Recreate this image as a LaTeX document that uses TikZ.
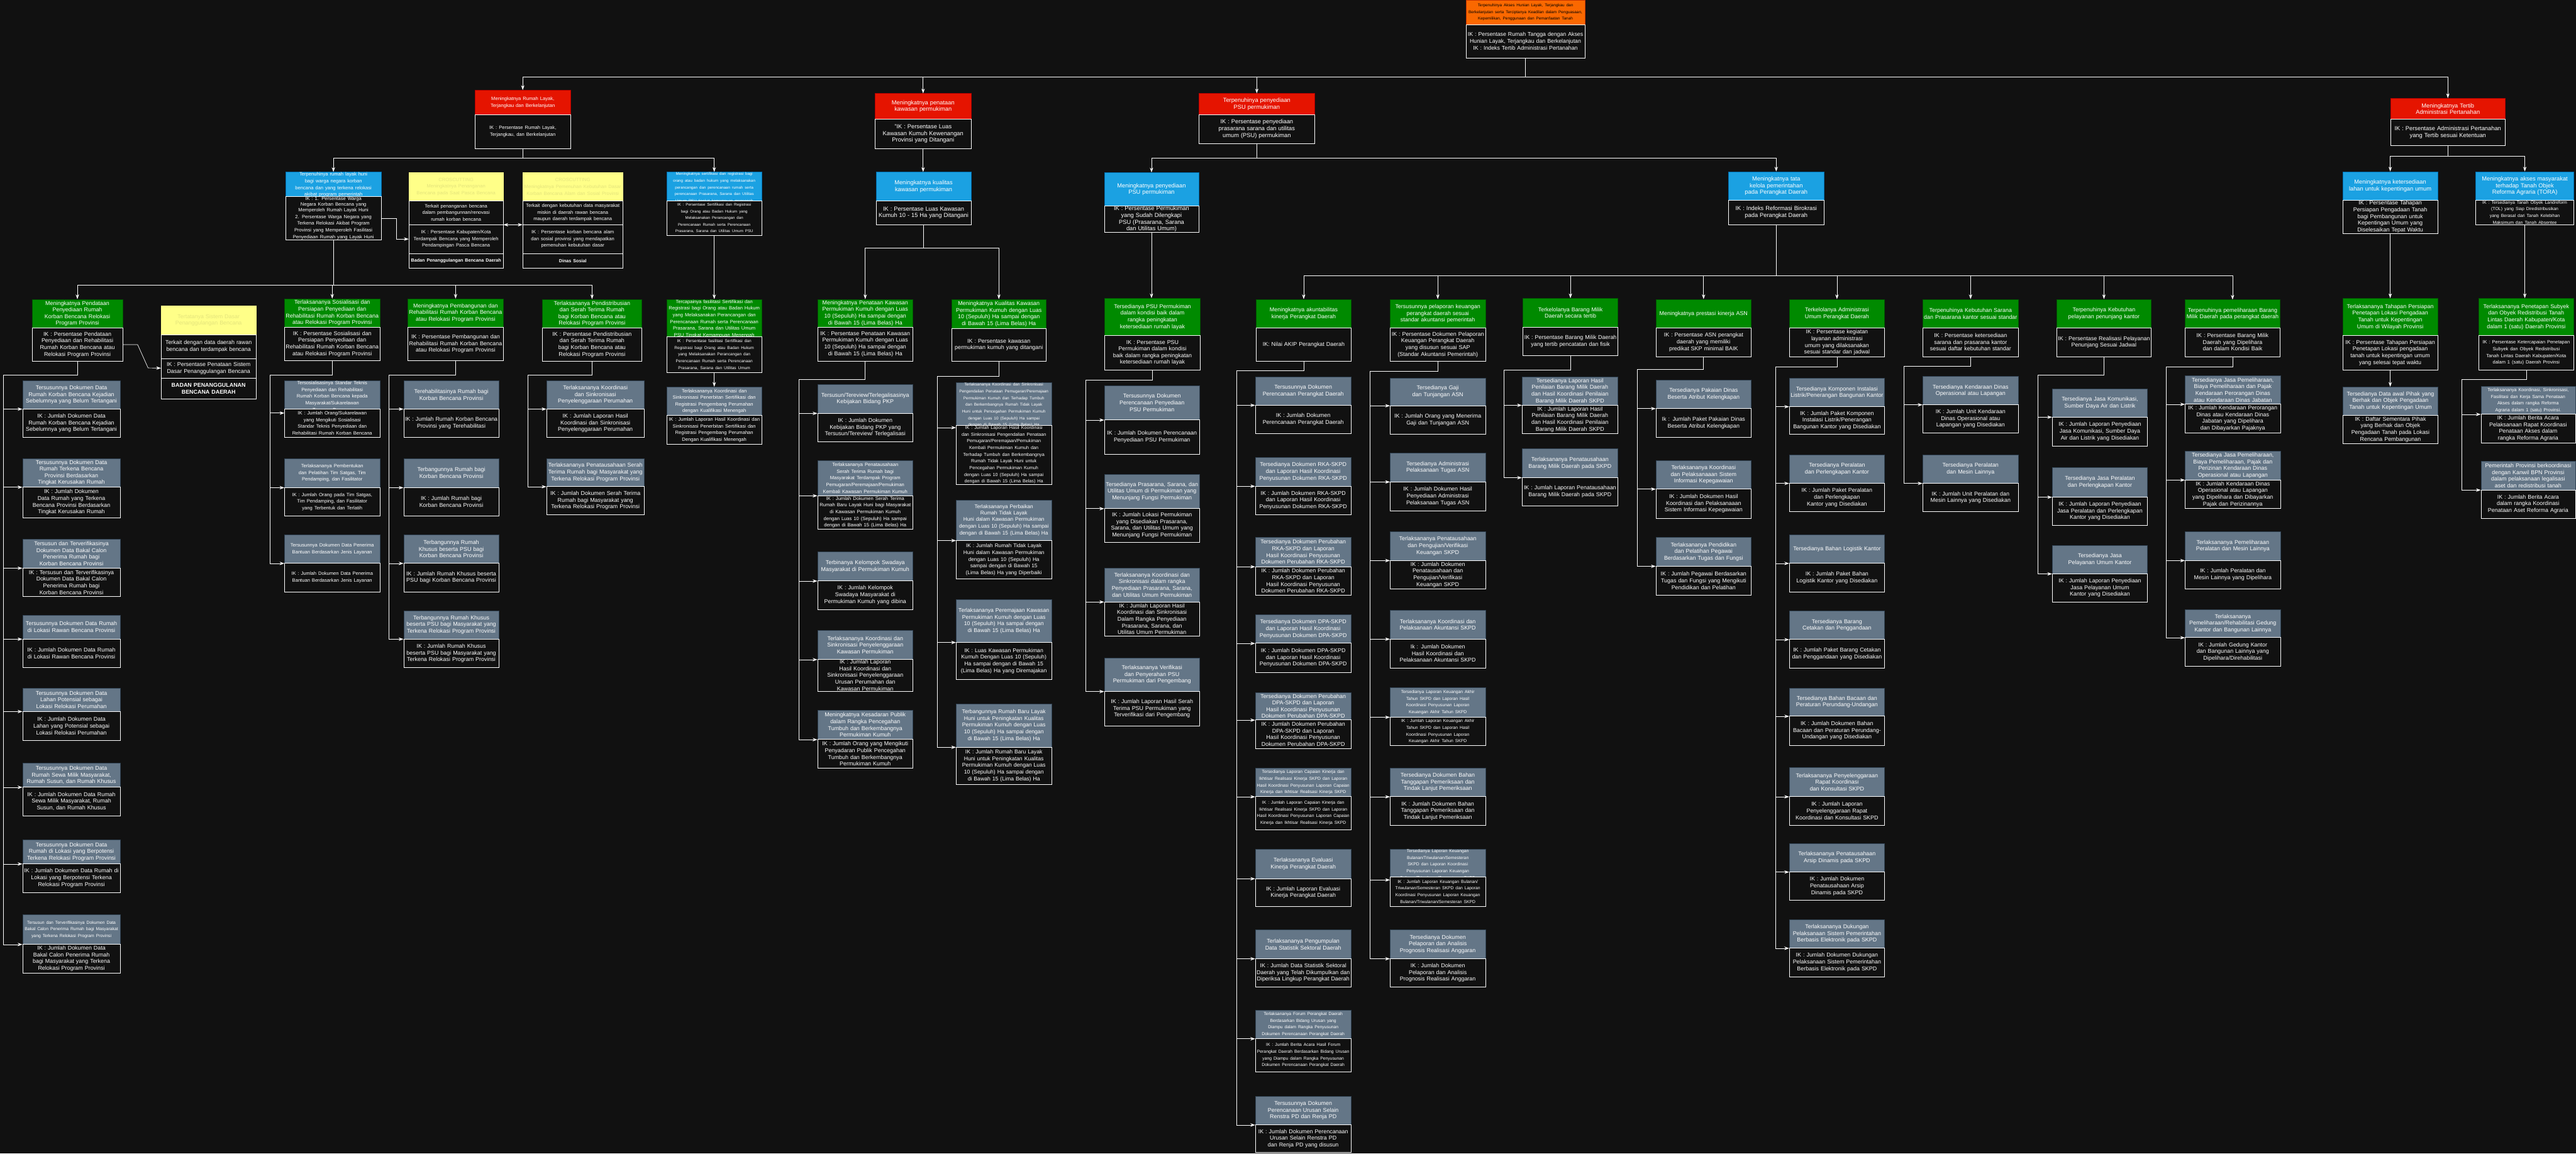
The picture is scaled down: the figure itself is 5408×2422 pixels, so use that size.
\documentclass[tikz,border=0pt]{standalone}
\usepackage{fontspec}
\setmainfont{Liberation Sans}
\usetikzlibrary{arrows.meta,positioning}

\definecolor{latar}{HTML}{111111}
\definecolor{oranye}{HTML}{FA6800}
\definecolor{oranyegelap}{HTML}{C73500}
\definecolor{merah}{HTML}{E51400}
\definecolor{merahgelap}{HTML}{B20000}
\definecolor{biru}{HTML}{1BA1E2}
\definecolor{birugelap}{HTML}{006EAF}
\definecolor{hijau}{HTML}{008A00}
\definecolor{hijaugelap}{HTML}{005700}
\definecolor{abu}{HTML}{647687}
\definecolor{abugelap}{HTML}{314354}
\definecolor{kuning}{HTML}{FFFF88}
\definecolor{kuningteks}{HTML}{E4E47C}

\newcommand{\uk}[2]{\fontsize{#1}{#2}\selectfont}
\newcommand{\kcl}{\uk{5.7}{6.9}}
\newcommand{\bsr}{\uk{7.0}{8.3}}

\tikzset{
  kotak/.style={anchor=north west, align=center, inner xsep=0.05cm, inner ysep=0.5pt,
    line width=0.5pt, font=\uk{6.7}{8.0},
    execute at begin node={\hyphenpenalty=10000\tolerance=9999\emergencystretch=1em}},
  kepala/.style={kotak, text=white},
  ik/.style={kotak, draw=white, fill=latar, text=white},
  oranye/.style={fill=oranye, draw=oranyegelap, text=black},
  merah/.style={fill=merah, draw=merahgelap},
  biru/.style={fill=biru, draw=birugelap},
  hijau/.style={fill=hijau, draw=hijaugelap},
  abu/.style={fill=abu, draw=abugelap},
  kuning/.style={fill=kuning, draw=kuning, text=kuningteks},
  panah/.style={draw=white, line width=0.5pt, -{Stealth[length=0.2cm,width=0.14cm]}},
  duaarah/.style={draw=white, line width=0.5pt, {Stealth[length=0.2cm,width=0.14cm]}-{Stealth[length=0.2cm,width=0.14cm]}}
}

% header box with its IK box below: name, x, y, width, h header, h IK, style, texts
\newcommand{\blok}[9]{%
  \pgfmathsetlengthmacro{\lebar}{(#4-5)*0.02cm}%
  \node[kepala,#7,text width=\lebar,minimum width=#4*0.02cm,minimum height=#5*0.02cm] (#1) at (#2,#3) {#8};
  \node[ik,text width=\lebar,minimum width=#4*0.02cm,minimum height=#6*0.02cm] (#1-ik) at (#2,{#3+#5}) {#9};
}
% parent to child over a horizontal bus at height #3
\newcommand{\turun}[3]{\draw[panah] (#1.south) -- (#1.south |- 0,#3) -| (#2.north);}
% parent to child over a vertical bus at x #3, branching at height #4
\newcommand{\samping}[4]{\draw[panah] (#1.south) |- (#3,#4) |- (#2.south west);}

\begin{document}
\begin{tikzpicture}[x=0.02cm,y=-0.02cm]
  \useasboundingbox (0,0) rectangle (5408,2422);
  \fill[latar] (0,0) rectangle (5408,2422);

  % tujuan utama
  \blok{akar}{3077}{0}{250}{51}{70}{oranye}{\uk{4.8}{7.4}Terpenuhinya Akses Hunian Layak, Terjangkau dan Berkelanjutan serta Terciptanya Keadilan dalam Penguasaan, Kepemilikan, Penggunaan dan Pemanfaatan Tanah}{\uk{6.6}{8.2}IK : Persentase Rumah Tangga dengan Akses Hunian Layak, Terjangkau dan Berkelanjutan\\IK : Indeks Tertib Administrasi Pertanahan}

  % sasaran
  \blok{mis1}{997}{189}{200}{51}{71}{merah}{\kcl Meningkatnya Rumah Layak, Terjangkau dan Berkelanjutan}{\kcl IK : Persentase Rumah Layak, Terjangkau, dan Berkelanjutan}
  \blok{mis2}{1837}{196}{201}{54}{61}{merah}{\bsr Meningkatnya penataan kawasan permukiman}{\bsr "IK : Persentase Luas Kawasan Kumuh Kewenangan Provinsi yang Ditangani}
  \blok{mis3}{2516}{196}{244}{44}{61}{merah}{\bsr Terpenuhinya penyediaan PSU permukiman}{\bsr IK : Persentase penyediaan prasarana sarana dan utilitas umum (PSU) permukiman}
  \blok{mis4}{5018}{206}{241}{44}{55}{merah}{\bsr Meningkatnya Tertib Administrasi Pertanahan}{\bsr IK : Persentase Administrasi Pertanahan yang Tertib sesuai Ketentuan}

  % tujuan perangkat daerah
  \blok{tuj1}{599}{361}{201}{51}{81}{biru}{\kcl Terpenuhinya rumah layak huni bagi warga negara korban bencana dan yang terkena relokasi akibat program pemerintah}{\kcl IK : 1. Persentase Warga Negara Korban Bencana yang Memperoleh Rumah Layak Huni\\2. Persentase Warga Negara yang Terkena Relokasi Akibat Program Provinsi yang Memperoleh Fasilitasi Penyediaan Rumah yang Layak Huni}
  \blok{tuj2}{1399}{361}{200}{60}{73}{biru}{\uk{4.6}{5.3}Meningkatnya sertifikasi dan registrasi bagi orang atau badan hukum yang melaksanakan perancangan dan perencanaan rumah serta perencanaan Prasarana, Sarana dan Utilitas Umum PSU tingkat kemampuan menengah}{\uk{4.6}{8.1}IK : Persentase Sertifikasi dan Registrasi bagi Orang atau Badan Hukum yang Melaksanakan Perancangan dan Perencanaan Rumah serta Perencanaan Prasarana, Sarana dan Utilitas Umum PSU}
  \blok{tuj3}{1839}{361}{199}{60}{50}{biru}{\bsr Meningkatnya kualitas kawasan permukiman}{\bsr IK : Persentase Luas Kawasan Kumuh 10 - 15 Ha yang Ditangani}
  \blok{tuj4}{2318}{362}{198}{70}{50}{biru}{\bsr Meningkatnya penyediaan PSU permukiman}{\bsr IK : Persentase Permukiman yang Sudah Dilengkapi PSU (Prasarana, Sarana dan Utilitas Umum)}
  \blok{tuj5}{3628}{360}{201}{60}{51}{biru}{\bsr Meningkatnya tata kelola pemerintahan pada Perangkat Daerah}{\bsr IK : Indeks Reformasi Birokrasi pada Perangkat Daerah}
  \blok{tuj6}{4918}{360}{199}{60}{70}{biru}{\bsr Meningkatnya ketersediaan lahan untuk kepentingan umum}{\uk{6.8}{8.1}IK : Persentase Tahapan Persiapan Pengadaan Tanah bagi Pembangunan untuk Kepentingan Umum yang Diselesaikan Tepat Waktu}
  \blok{tuj7}{5197}{360}{206}{60}{51}{biru}{\bsr Meningkatnya akses masyarakat terhadap Tanah Objek Reforma Agraria (TORA)}{\uk{5.2}{6.1}IK : Tersedianya Tanah Obyek Landreform (TOL) yang Siap Diredistribusikan yang Berasal dari Tanah Kelebihan Maksimum dan Tanah Absentee}

  % crosscutting
  \node[kepala,kuning,text width=3.86cm,minimum width=3.96cm,minimum height=1.18cm] (cc1) at (858,362) {\kcl CROSCUTTING\\Meningkatnya Penanganan Bencana pada Saat Pasca Bencana};
  \node[ik,text width=3.86cm,minimum width=3.96cm,minimum height=1cm] (cc1-tx) at (858,421) {\kcl Terkait penanganan bencana dalam pembangunnan/renovasi rumah korban bencana};
  \node[ik,text width=3.86cm,minimum width=3.96cm,minimum height=1.22cm] (cc1-ik) at (858,471) {\kcl IK : Persentase Kabupaten/Kota Terdampak Bencana yang Memperoleh Pendampingan Pasca Bencana};
  \node[ik,text width=3.86cm,minimum width=3.96cm,minimum height=0.6cm] (cc1-lb) at (858,532) {\uk{5.4}{6.5}\bfseries Badan Penanggulangan Bencana Daerah};

  \node[kepala,kuning,text width=4.1cm,minimum width=4.2cm,minimum height=1.18cm] (cc2) at (1097,362) {\kcl CROSCUTTING\\Meningkatnya Pemenuhan Kebutuhan Dasar Korban Bencana Alam dan Sosial Provinsi};
  \node[ik,text width=4.1cm,minimum width=4.2cm,minimum height=1cm] (cc2-tx) at (1097,421) {\kcl Terkait dengan kebutuhan data masyarakat miskin di daerah rawan bencana maupun daerah terdampak bencana};
  \node[ik,text width=4.1cm,minimum width=4.2cm,minimum height=1.22cm] (cc2-ik) at (1097,471) {\kcl IK : Persentase korban bencana alam dan sosial provinsi yang mendapatkan pemenuhan kebutuhan dasar};
  \node[ik,text width=4.1cm,minimum width=4.2cm,minimum height=0.6cm] (cc2-lb) at (1097,532) {\uk{5.4}{6.5}\bfseries Dinas Sosial};

  \node[kepala,kuning,text width=3.88cm,minimum width=3.98cm,minimum height=1.2cm] (cc3) at (338,642) {Tertatanya Sistem Dasar Penanggulangan Bencana};
  \node[ik,text width=3.88cm,minimum width=3.98cm,minimum height=1cm] (cc3-tx) at (338,702) {Terkait dengan data daerah rawan bencana dan terdampak bencana};
  \node[ik,text width=3.88cm,minimum width=3.98cm,minimum height=0.82cm] (cc3-ik) at (338,752) {IK : Persentase Penataan Sistem Dasar Penanggulangan Bencana};
  \node[ik,text width=3.88cm,minimum width=3.98cm,minimum height=0.88cm] (cc3-lb) at (338,793) {\bfseries BADAN PENANGGULANAN BENCANA DAERAH};

  % sasaran kegiatan
  \blok{sa}{67}{628}{190}{60}{70}{hijau}{Meningkatnya Pendataan Penyediaan Rumah Korban Bencana Relokasi Program Provinsi}{IK : Persentase Pendataan Penyediaan dan Rehabilitasi Rumah Korban Bencana atau Relokasi Program Provinsi}
  \blok{sb}{597}{627}{200}{59}{71}{hijau}{Terlaksananya Sosialisasi dan Persiapan Penyediaan dan Rehabilitasi Rumah Korban Bencana atau Relokasi Program Provinsi}{IK : Persentase Sosialisasi dan Persiapan Penyediaan dan Rehabilitasi Rumah Korban Bencana atau Relokasi Program Provinsi}
  \blok{sd}{856}{627}{200}{59}{71}{hijau}{Meningkatnya Pembangunan dan Rehabilitasi Rumah Korban Bencana atau Relokasi Program Provinsi}{IK : Persentase Pembangunan dan Rehabilitasi Rumah Korban Bencana atau Relokasi Program Provinsi}
  \blok{se}{1138}{628}{209}{60}{70}{hijau}{Terlaksananya Pendistribusian dan Serah Terima Rumah bagi Korban Bencana atau Relokasi Program Provinsi}{IK : Persentase Pendistribusian dan Serah Terima Rumah bagi Korban Bencana atau Relokasi Program Provinsi}
  \blok{sf}{1399}{628}{200}{79}{74}{hijau}{\kcl Tercapainya fasilitasi Sertifikasi dan Registrasi bagi Orang atau Badan Hukum yang Melaksanakan Perancangan dan Perencanaan Rumah serta Perencanaan Prasarana, Sarana dan Utilitas Umum PSU Tingkat Kemampuan Menengah}{\uk{4.9}{6.1}IK : Persentase fasilitasi Sertifikasi dan Registrasi bagi Orang atau Badan Hukum yang Melaksanakan Perancangan dan Perencanaan Rumah serta Perencanaan Prasarana, Sarana dan Utilitas Umum}
  \blok{sg}{1716}{628}{200}{58}{72}{hijau}{Meningkatnya Penataan Kawasan Permukiman Kumuh dengan Luas 10 (Sepuluh) Ha sampai dengan di Bawah 15 (Lima Belas) Ha}{IK : Persentase Penataan Kawasan Permukiman Kumuh dengan Luas 10 (Sepuluh) Ha sampai dengan di Bawah 15 (Lima Belas) Ha}
  \blok{sh}{1997}{628}{199}{61}{69}{hijau}{Meningkatnya Kualitas Kawasan Permukiman Kumuh dengan Luas 10 (Sepuluh) Ha sampai dengan di Bawah 15 (Lima Belas) Ha}{IK : Persentase kawasan permukiman kumuh yang ditangani}
  \blok{si}{2319}{626}{200}{78}{72}{hijau}{Tersedianya PSU Permukiman dalam kondisi baik dalam rangka peningkatan ketersediaan rumah layak}{IK : Persentase PSU Permukiman dalam kondisi baik dalam rangka peningkatan ketersediaan rumah layak}
  \blok{sj}{2637}{628}{199}{60}{70}{hijau}{Meningkatnya akuntabilitas kinerja Perangkat Daerah}{IK: Nilai AKIP Perangkat Daerah}
  \blok{sk}{2918}{628}{200}{60}{70}{hijau}{Tersusunnya pelaporan keuangan perangkat daerah sesuai standar akuntansi pemerintah}{IK : Persentase Dokumen Pelaporan Keuangan Perangkat Daerah yang disusun sesuai SAP (Standar Akuntansi Pemerintah)}
  \blok{sl}{3197}{626}{199}{60}{60}{hijau}{Terkelolanya Barang Milik Daerah secara tertib}{IK : Persentase Barang Milik Daerah yang tertib pencatatan dan fisik}
  \blok{sm}{3476}{628}{200}{60}{60}{hijau}{Meningkatnya prestasi kinerja ASN}{IK : Persentase ASN perangkat daerah yang memiliki predikat SKP minimal BAIK}
  \blok{sn}{3756}{628}{200}{60}{61}{hijau}{Terkelolanya Administrasi Umum Perangkat Daerah}{IK : Persentase kegiatan layanan administrasi umum yang dilaksanakan sesuai standar dan jadwal}
  \blok{so}{4036}{628}{201}{60}{60}{hijau}{Terpenuhinya Kebutuhan Sarana dan Prasarana kantor sesuai standar}{IK : Persentase ketersediaan sarana dan prasarana kantor sesuai daftar kebutuhan standar}
  \blok{sp}{4317}{628}{199}{60}{60}{hijau}{Terpenuhinya Kebutuhan pelayanan penunjang kantor}{IK : Persentase Realisasi Pelayanan Penunjang Sesuai Jadwal}
  \blok{sq}{4587}{629}{199}{59}{60}{hijau}{Terpenuhinya pemeliharaan Barang Milik Daerah pada perangkat daerah}{IK : Persentase Barang Milik Daerah yang Dipelihara dan dalam Kondisi Baik}
  \blok{sr}{4918}{626}{199}{78}{72}{hijau}{Terlaksananya Tahapan Persiapan Penetapan Lokasi Pengadaan Tanah untuk Kepentingan Umum di Wilayah Provinsi}{IK : Persentase Tahapan Persiapan Penetapan Lokasi pengadaan tanah untuk kepentingan umum yang selesai tepat waktu}
  \blok{ss}{5203}{626}{200}{78}{72}{hijau}{Terlaksananya Penetapan Subyek dan Obyek Redistribusi Tanah Lintas Daerah Kabupaten/Kota dalam 1 (satu) Daerah Provinsi}{\uk{5.6}{7.4}IK : Persentase Ketercapaian Penetapan Subyek dan Obyek Redistribusi Tanah Lintas Daerah Kabupaten/Kota dalam 1 (satu) Daerah Provinsi}

  % keluaran
  \blok{a1}{47}{799}{205}{59}{60}{abu}{Tersusunnya Dokumen Data Rumah Korban Bencana Kejadian Sebelumnya yang Belum Tertangani}{IK : Jumlah Dokumen Data Rumah Korban Bencana Kejadian Sebelumnya yang Belum Tertangani}
  \blok{a2}{47}{962}{205}{60}{64}{abu}{Tersusunnya Dokumen Data Rumah Terkena Bencana Provinsi Berdasarkan Tingkat Kerusakan Rumah}{IK : Jumlah Dokumen Data Rumah yang Terkena Bencana Provinsi Berdasarkan Tingkat Kerusakan Rumah}
  \blok{a3}{47}{1132}{205}{60}{60}{abu}{Tersusun dan Terverifikasinya Dokumen Data Bakal Calon Penerima Rumah bagi Korban Bencana Provinsi}{IK : Tersusun dan Terverifikasinya Dokumen Data Bakal Calon Penerima Rumah bagi Korban Bencana Provinsi}
  \blok{a4}{47}{1291}{205}{50}{60}{abu}{Tersusunnya Dokumen Data Rumah di Lokasi Rawan Bencana Provinsi}{IK : Jumlah Dokumen Data Rumah di Lokasi Rawan Bencana Provinsi}
  \blok{a5}{47}{1444}{205}{49}{61}{abu}{Tersusunnya Dokumen Data Lahan Potensial sebagai Lokasi Relokasi Perumahan}{IK : Jumlah Dokumen Data Lahan yang Potensial sebagai Lokasi Relokasi Perumahan}
  \blok{a6}{47}{1602}{205}{50}{60}{abu}{Tersusunnya Dokumen Data Rumah Sewa Milik Masyarakat, Rumah Susun, dan Rumah Khusus}{IK : Jumlah Dokumen Data Rumah Sewa Milik Masyarakat, Rumah Susun, dan Rumah Khusus}
  \blok{a7}{47}{1763}{205}{50}{60}{abu}{Tersusunnya Dokumen Data Rumah di Lokasi yang Berpotensi Terkena Relokasi Program Provinsi}{IK : Jumlah Dokumen Data Rumah di Lokasi yang Berpotensi Terkena Relokasi Program Provinsi}
  \blok{a8}{47}{1920}{205}{62}{60}{abu}{\uk{5.1}{8.3}Tersusun dan Terverifikasinya Dokumen Data Bakal Calon Penerima Rumah bagi Masyarakat yang Terkena Relokasi Program Provinsi}{IK : Jumlah Dokumen Data Bakal Calon Penerima Rumah bagi Masyarakat yang Terkena Relokasi Program Provinsi}

  \blok{b1}{597}{799}{200}{59}{60}{abu}{\kcl Tersosialisasinya Standar Teknis Penyediaan dan Rehabilitasi Rumah Korban Bencana kepada Masyarakat/Sukarelawan Tanggap Bencana}{\kcl IK : Jumlah Orang/Sukarelawan yang Mengikuti Sosialisasi Standar Teknis Penyediaan dan Rehabilitasi Rumah Korban Bencana}
  \blok{b2}{597}{962}{200}{61}{60}{abu}{\kcl Terlaksananya Pembentukan dan Pelatihan Tim Satgas, Tim Pendamping, dan Fasilitator}{\kcl IK : Jumlah Orang pada Tim Satgas, Tim Pendamping, dan Fasilitator yang Terbentuk dan Terlatih}
  \blok{b3}{597}{1122}{200}{60}{60}{abu}{\kcl Tersusunnya Dokumen Data Penerima Bantuan Berdasarkan Jenis Layanan}{\kcl IK : Jumlah Dokumen Data Penerima Bantuan Berdasarkan Jenis Layanan}

  \blok{d1}{847}{799}{200}{59}{60}{abu}{Terehabilitasinya Rumah bagi Korban Bencana Provinsi}{IK : Jumlah Rumah Korban Bencana Provinsi yang Terehabilitasi}
  \blok{d2}{847}{962}{200}{61}{60}{abu}{Terbangunnya Rumah bagi Korban Bencana Provinsi}{IK : Jumlah Rumah bagi Korban Bencana Provinsi}
  \blok{d3}{847}{1122}{200}{60}{60}{abu}{Terbangunnya Rumah Khusus beserta PSU bagi Korban Bencana Provinsi}{IK : Jumlah Rumah Khusus beserta PSU bagi Korban Bencana Provinsi}
  \blok{d4}{847}{1282}{200}{59}{60}{abu}{Terbangunnya Rumah Khusus beserta PSU bagi Masyarakat yang Terkena Relokasi Program Provinsi}{IK : Jumlah Rumah Khusus beserta PSU bagi Masyarakat yang Terkena Relokasi Program Provinsi}

  \blok{e1}{1147}{799}{205}{59}{60}{abu}{Terlaksananya Koordinasi dan Sinkronisasi Penyelenggaraan Perumahan}{IK : Jumlah Laporan Hasil Koordinasi dan Sinkronisasi Penyelenggaraan Perumahan}
  \blok{e2}{1147}{962}{205}{59}{59}{abu}{Terlaksananya Penatausahaan Serah Terima Rumah bagi Masyarakat yang Terkena Relokasi Program Provinsi}{IK : Jumlah Dokumen Serah Terima Rumah bagi Masyarakat yang Terkena Relokasi Program Provinsi}

  \blok{f1}{1399}{812}{200}{60}{60}{abu}{\kcl Terlaksananya Koordinasi dan Sinkronisasi Penerbitan Sertifikasi dan Registrasi Pengembang Perumahan dengan Kualifikasi Menengah}{\kcl IK : Jumlah Laporan Hasil Koordinasi dan Sinkronisasi Penerbitan Sertifikasi dan Registrasi Pengembang Perumahan Dengan Kualifikasi Menengah}

  \blok{g1}{1716}{807}{200}{60}{60}{abu}{Tersusun/Tereview/Terlegalisasinya Kebijakan Bidang PKP}{IK : Jumlah Dokumen Kebijakan Bidang PKP yang Tersusun/Tereview/ Terlegalisasi}
  \blok{g2}{1716}{966}{200}{74}{70}{abu}{\uk{5.7}{8.2}Terlaksananya Penatausahaan Serah Terima Rumah bagi Masyarakat Terdampak Program Pemugaran/Peremajaan/Pemukiman Kembali Kawasan Permukiman Kumuh}{\kcl IK : Jumlah Dokumen Serah Terima Rumah Baru Layak Huni bagi Masyarakat di Kawasan Permukiman Kumuh dengan Luas 10 (Sepuluh) Ha sampai dengan di Bawah 15 (Lima Belas) Ha}
  \blok{g3}{1716}{1158}{200}{61}{60}{abu}{Terbinanya Kelompok Swadaya Masyarakat di Permukiman Kumuh}{IK : Jumlah Kelompok Swadaya Masyarakat di Permukiman Kumuh yang dibina}
  \blok{g4}{1716}{1323}{200}{61}{60}{abu}{Terlaksananya Koordinasi dan Sinkronisasi Penyelenggaraan Kawasan Permukiman}{IK : Jumlah Laporan Hasil Koordinasi dan Sinkronisasi Penyelenggaraan Urusan Perumahan dan Kawasan Permukiman}
  \blok{g5}{1716}{1491}{200}{61}{60}{abu}{Meningkatnya Kesadaran Publik dalam Rangka Pencegahan Tumbuh dan Berkembangnya Permukiman Kumuh}{IK : Jumlah Orang yang Mengikuti Penyadaran Publik Pencegahan Tumbuh dan Berkembangnya Permukiman Kumuh}

  \blok{h1}{2007}{803}{200}{90}{117}{abu}{\uk{4.8}{5.9}Terlaksananya Koordinasi dan Sinkronisasi Pengendalian Penataan Pemugaran/Peremajaan Permukiman Kumuh dan Terhadap Tumbuh dan Berkembangnya Rumah Tidak Layak Huni untuk Pencegahan Permukiman Kumuh dengan Luas 10 (Sepuluh) Ha sampai dengan di Bawah 15 (Lima Belas) Ha}{\uk{5.4}{6.5}IK : Jumlah Laporan Hasil Koordinasi dan Sinkronisasi Pengendalian Penataan Pemugaran/Peremajaan/Pemukiman Kembali Permukiman Kumuh dan Terhadap Tumbuh dan Berkembangnya Rumah Tidak Layak Huni untuk Pencegahan Permukiman Kumuh dengan Luas 10 (Sepuluh) Ha sampai dengan di Bawah 15 (Lima Belas) Ha}
  \blok{h2}{2007}{1049}{200}{85}{81}{abu}{\uk{6.2}{7.5}Terlaksananya Perbaikan Rumah Tidak Layak\\Huni dalam Kawasan Permukiman dengan Luas 10 (Sepuluh) Ha sampai dengan di Bawah 15 (Lima Belas) Ha}{\uk{6.2}{7.5}IK : Jumlah Rumah Tidak Layak Huni dalam Kawasan Permukiman dengan Luas 10 (Sepuluh) Ha sampai dengan di Bawah 15 (Lima Belas) Ha yang Diperbaiki}
  \blok{h3}{2007}{1258}{200}{90}{78}{abu}{\uk{6.5}{7.9}Terlaksananya Peremajaan Kawasan Permukiman Kumuh dengan Luas 10 (Sepuluh) Ha sampai dengan di Bawah 15 (Lima Belas) Ha}{\uk{6.5}{7.9}IK : Luas Kawasan Permukiman Kumuh Dengan Luas 10 (Sepuluh) Ha sampai dengan di Bawah 15 (Lima Belas) Ha yang Diremajakan}
  \blok{h4}{2007}{1477}{200}{91}{78}{abu}{\uk{6.5}{7.9}Terbangunnya Rumah Baru Layak Huni untuk Peningkatan Kualitas Permukiman Kumuh dengan Luas 10 (Sepuluh) Ha sampai dengan di Bawah 15 (Lima Belas) Ha}{\uk{6.5}{7.9}IK : Jumlah Rumah Baru Layak Huni untuk Peningkatan Kualitas Permukiman Kumuh dengan Luas 10 (Sepuluh) Ha sampai dengan di Bawah 15 (Lima Belas) Ha}

  \blok{i1}{2318}{809}{200}{72}{72}{abu}{Tersusunnya Dokumen Perencanaan Penyediaan PSU Permukiman}{IK : Jumlah Dokumen Perencanaan Penyediaan PSU Permukiman}
  \blok{i2}{2318}{996}{200}{71}{71}{abu}{Tersedianya Prasarana, Sarana, dan Utilitas Umum di Permukiman yang Menunjang Fungsi Permukiman}{IK : Jumlah Lokasi Permukiman yang Disediakan Prasarana, Sarana, dan Utilitas Umum yang Menunjang Fungsi Permukiman}
  \blok{i3}{2318}{1192}{200}{71}{72}{abu}{Terlaksananya Koordinasi dan Sinkronisasi dalam rangka Penyediaan Prasarana, Sarana, dan Utilitas Umum Permukiman}{IK : Jumlah Laporan Hasil Koordinasi dan Sinkronisasi Dalam Rangka Penyediaan Prasarana, Sarana, dan Utilitas Umum Permukiman}
  \blok{i4}{2318}{1381}{200}{70}{73}{abu}{Terlaksananya Verifikasi dan Penyerahan PSU Permukiman dari Pengembang}{IK : Jumlah Laporan Hasil Serah Terima PSU Permukiman yang Terverifikasi dari Pengembang}

  \blok{j1}{2635}{791}{201}{59}{60}{abu}{Tersusunnya Dokumen Perencanaan Perangkat Daerah}{IK : Jumlah Dokumen Perencanaan Perangkat Daerah}
  \blok{j2}{2635}{960}{201}{60}{60}{abu}{Tersedianya Dokumen RKA-SKPD dan Laporan Hasil Koordinasi Penyusunan Dokumen RKA-SKPD}{IK : Jumlah Dokumen RKA-SKPD dan Laporan Hasil Koordinasi Penyusunan Dokumen RKA-SKPD}
  \blok{j3}{2635}{1128}{201}{61}{60}{abu}{Tersedianya Dokumen Perubahan RKA-SKPD dan Laporan Hasil Koordinasi Penyusunan Dokumen Perubahan RKA-SKPD}{IK : Jumlah Dokumen Perubahan RKA-SKPD dan Laporan Hasil Koordinasi Penyusunan Dokumen Perubahan RKA-SKPD}
  \blok{j4}{2635}{1290}{201}{60}{61}{abu}{Tersedianya Dokumen DPA-SKPD dan Laporan Hasil Koordinasi Penyusunan Dokumen DPA-SKPD}{IK : Jumlah Dokumen DPA-SKPD dan Laporan Hasil Koordinasi Penyusunan Dokumen DPA-SKPD}
  \blok{j5}{2635}{1453}{201}{58}{60}{abu}{Tersedianya Dokumen Perubahan DPA-SKPD dan Laporan Hasil Koordinasi Penyusunan Dokumen Perubahan DPA-SKPD}{IK : Jumlah Dokumen Perubahan DPA-SKPD dan Laporan Hasil Koordinasi Penyusunan Dokumen Perubahan DPA-SKPD}
  \blok{j6}{2635}{1612}{201}{60}{69}{abu}{\uk{5.1}{7}Tersedianya Laporan Capaian Kinerja dan Ikhtisar Realisasi Kinerja SKPD dan Laporan Hasil Koordinasi Penyusunan Laporan Capaian Kinerja dan Ikhtisar Realisasi Kinerja SKPD}{\uk{5.1}{7}IK : Jumlah Laporan Capaian Kinerja dan Ikhtisar Realisasi Kinerja SKPD dan Laporan Hasil Koordinasi Penyusunan Laporan Capaian Kinerja dan Ikhtisar Realisasi Kinerja SKPD}
  \blok{j7}{2635}{1783}{201}{61}{59}{abu}{Terlaksananya Evaluasi Kinerja Perangkat Daerah}{IK : Jumlah Laporan Evaluasi Kinerja Perangkat Daerah}
  \blok{j8}{2635}{1952}{201}{60}{60}{abu}{Terlaksananya Pengumpulan Data Statistik Sektoral Daerah}{IK : Jumlah Data Statistik Sektoral Daerah yang Telah Dikumpulkan dan Diperiksa Lingkup Perangkat Daerah}
  \blok{j9}{2635}{2120}{201}{60}{70}{abu}{\uk{5.1}{6.7}Terlaksananya Forum Perangkat Daerah Berdasarkan Bidang Urusan yang Diampu dalam Rangka Penyusunan Dokumen Perencanaan Perangkat Daerah}{\uk{5.1}{6.7}IK : Jumlah Berita Acara Hasil Forum Perangkat Daerah Berdasarkan Bidang Urusan yang Diampu dalam Rangka Penyusunan Dokumen Perencanaan Perangkat Daerah}
  \blok{j10}{2635}{2301}{201}{60}{58}{abu}{Tersusunnya Dokumen Perencanaan Urusan Selain Renstra PD dan Renja PD}{IK : Jumlah Dokumen Perencanaan Urusan Selain Renstra PD dan Renja PD yang disusun}

  \blok{k1}{2918}{793}{200}{58}{60}{abu}{Tersedianya Gaji dan Tunjangan ASN}{IK : Jumlah Orang yang Menerima Gaji dan Tunjangan ASN}
  \blok{k2}{2918}{951}{200}{60}{61}{abu}{Tersedianya Administrasi Pelaksanaan Tugas ASN}{IK : Jumlah Dokumen Hasil Penyediaan Administrasi Pelaksanaan Tugas ASN}
  \blok{k3}{2918}{1116}{200}{60}{60}{abu}{Terlaksananya Penatausahaan dan Pengujian/Verifikasi Keuangan SKPD}{IK : Jumlah Dokumen Penatausahaan dan Pengujian/Verifikasi Keuangan SKPD}
  \blok{k4}{2918}{1281}{200}{60}{61}{abu}{Terlaksananya Koordinasi dan Pelaksanaan Akuntansi SKPD}{Ik : Jumlah Dokumen Hasil Koordinasi dan Pelaksanaan Akuntansi SKPD}
  \blok{k5}{2918}{1443}{200}{62}{60}{abu}{\uk{5.1}{6.8}Tersedianya Laporan Keuangan Akhir Tahun SKPD dan Laporan Hasil Koordinasi Penyusunan Laporan Keuangan Akhir Tahun SKPD}{\uk{5.1}{6.8}IK : Jumlah Laporan Keuangan Akhir Tahun SKPD dan Laporan Hasil Koordinasi Penyusunan Laporan Keuangan Akhir Tahun SKPD}
  \blok{k6}{2918}{1612}{200}{60}{60}{abu}{Tersedianya Dokumen Bahan Tanggapan Pemeriksaan dan Tindak Lanjut Pemeriksaan}{IK : Jumlah Dokumen Bahan Tanggapan Pemeriksaan dan Tindak Lanjut Pemeriksaan}
  \blok{k7}{2918}{1782}{200}{59}{61}{abu}{\uk{5.1}{7}Tersedianya Laporan Keuangan Bulanan/Triwulanan/Semesteran SKPD dan Laporan Koordinasi Penyusunan Laporan Keuangan Bulanan/Triwulanan/Semesteran SKPD}{\uk{5.1}{7}IK : Jumlah Laporan Keuangan Bulanan/ Triwulanan/Semesteran SKPD dan Laporan Koordinasi Penyusunan Laporan Keuangan Bulanan/Triwulanan/Semesteran SKPD}
  \blok{k8}{2918}{1952}{200}{60}{60}{abu}{Tersedianya Dokumen Pelaporan dan Analisis Prognosis Realisasi Anggaran}{IK : Jumlah Dokumen Pelaporan dan Analisis Prognosis Realisasi Anggaran}

  \blok{l1}{3195}{791}{201}{59}{60}{abu}{Tersedianya Laporan Hasil Penilaian Barang Milik Daerah dan Hasil Koordinasi Penilaian Barang Milik Daerah SKPD}{IK : Jumlah Laporan Hasil Penilaian Barang Milik Daerah dan Hasil Koordinasi Penilaian Barang Milik Daerah SKPD}
  \blok{l2}{3195}{942}{201}{60}{60}{abu}{Terlaksananya Penatausahaan Barang Milik Daerah pada SKPD}{IK : Jumlah Laporan Penatausahaan Barang Milik Daerah pada SKPD}

  \blok{m1}{3476}{797}{200}{60}{61}{abu}{Tersedianya Pakaian Dinas Beserta Atribut Kelengkapan}{Ik : Jumlah Paket Pakaian Dinas Beserta Atribut Kelengkapan}
  \blok{m2}{3476}{966}{200}{60}{62}{abu}{Terlaksananya Koordinasi dan Pelaksanaaan Sistem Informasi Kepegawaian}{IK : Jumlah Dokumen Hasil Koordinasi dan Pelaksanaaan Sistem Informasi Kepegawaian}
  \blok{m3}{3476}{1128}{200}{60}{61}{abu}{Terlaksananya Pendidikan dan Pelatihan Pegawai Berdasarkan Tugas dan Fungsi}{IK : Jumlah Pegawai Berdasarkan Tugas dan Fungsi yang Mengikuti Pendidikan dan Pelatihan}

  \blok{n1}{3756}{794}{200}{59}{58}{abu}{Tersedianya Komponen Instalasi Listrik/Penerangan Bangunan Kantor}{IK : Jumlah Paket Komponen Instalasi Listrik/Penerangan Bangunan Kantor yang Disediakan}
  \blok{n2}{3756}{954}{200}{60}{60}{abu}{Tersedianya Peralatan dan Perlengkapan Kantor}{IK : Jumlah Paket Peralatan dan Perlengkapan Kantor yang Disediakan}
  \blok{n3}{3756}{1122}{200}{60}{61}{abu}{Tersedianya Bahan Logistik Kantor}{IK : Jumlah Paket Bahan Logistik Kantor yang Disediakan}
  \blok{n4}{3756}{1282}{200}{60}{60}{abu}{Tersedianya Barang Cetakan dan Penggandaan}{IK : Jumlah Paket Barang Cetakan dan Penggandaan yang Disediakan}
  \blok{n5}{3756}{1444}{200}{59}{61}{abu}{Tersedianya Bahan Bacaan dan Peraturan Perundang-Undangan}{IK : Jumlah Dokumen Bahan Bacaan dan Peraturan Perundang-Undangan yang Disediakan}
  \blok{n6}{3756}{1611}{200}{61}{60}{abu}{Terlaksananya Penyelenggaraan Rapat Koordinasi dan Konsultasi SKPD}{IK : Jumlah Laporan Penyelenggaraan Rapat Koordinasi dan Konsultasi SKPD}
  \blok{n7}{3756}{1770}{200}{60}{60}{abu}{Terlaksananya Penatausahaan Arsip Dinamis pada SKPD}{IK : Jumlah Dokumen Penatausahaan Arsip Dinamis pada SKPD}
  \blok{n8}{3756}{1930}{200}{60}{60}{abu}{Terlaksananya Dukungan Pelaksanaan Sistem Pemerintahan Berbasis Elektronik pada SKPD}{IK : Jumlah Dokumen Dukungan Pelaksanaan Sistem Pemerintahan Berbasis Elektronik pada SKPD}

  \blok{o1}{4036}{790}{201}{59}{59}{abu}{Tersedianya Kendaraan Dinas Operasional atau Lapangan}{IK : Jumlah Unit Kendaraan Dinas Operasional atau Lapangan yang Disediakan}
  \blok{o2}{4036}{955}{201}{59}{60}{abu}{Tersedianya Peralatan dan Mesin Lainnya}{IK : Jumlah Unit Peralatan dan Mesin Lainnya yang Disediakan}

  \blok{p1}{4308}{816}{200}{59}{61}{abu}{Tersedianya Jasa Komunikasi, Sumber Daya Air dan Listrik}{IK : Jumlah Laporan Penyediaan Jasa Komunikasi, Sumber Daya Air dan Listrik yang Disediakan}
  \blok{p2}{4308}{981}{200}{62}{60}{abu}{Tersedianya Jasa Peralatan dan Perlengkapan Kantor}{IK : Jumlah Laporan Penyediaan Jasa Peralatan dan Perlengkapan Kantor yang Disediakan}
  \blok{p3}{4308}{1145}{200}{59}{60}{abu}{Tersedianya Jasa Pelayanan Umum Kantor}{IK : Jumlah Laporan Penyediaan Jasa Pelayanan Umum Kantor yang Disediakan}

  \blok{q1}{4587}{788}{200}{60}{60}{abu}{Tersedianya Jasa Pemeliharaan, Biaya Pemeliharaan dan Pajak Kendaraan Perorangan Dinas atau Kendaraan Dinas Jabatan}{IK : Jumlah Kendaraan Perorangan Dinas atau Kendaraan Dinas Jabatan yang Dipelihara dan Dibayarkan Pajaknya}
  \blok{q2}{4587}{947}{200}{60}{60}{abu}{Tersedianya Jasa Pemeliharaan, Biaya Pemeliharaan, Pajak dan Perizinan Kendaraan Dinas Operasional atau Lapangan}{IK : Jumlah Kendaraan Dinas Operasional atau Lapangan yang Dipelihara dan Dibayarkan Pajak dan Perizinannya}
  \blok{q3}{4587}{1116}{200}{60}{60}{abu}{Terlaksananya Pemeliharaan Peralatan dan Mesin Lainnya}{IK : Jumlah Peralatan dan Mesin Lainnya yang Dipelihara}
  \blok{q4}{4587}{1279}{200}{59}{60}{abu}{Terlaksananya Pemeliharaan/Rehabilitasi Gedung Kantor dan Bangunan Lainnya}{IK : Jumlah Gedung Kantor dan Bangunan Lainnya yang Dipelihara/Direhabilitasi}

  \blok{r1}{4918}{812}{200}{59}{60}{abu}{Tersedianya Data awal Pihak yang Berhak dan Objek Pengadaan Tanah untuk Kepentingan Umum}{IK : Daftar Sementara Pihak yang Berhak dan Objek Pengadaan Tanah pada Lokasi Rencana Pembangunan}

  \blok{s1}{5208}{811}{198}{58}{60}{abu}{\uk{5.4}{7.4}Terlaksananya Koordinasi, Sinkronisasi, Fasilitasi dan Kerja Sama Penataan Akses dalam rangka Reforma Agraria dalam 1 (satu) Provinsi.}{IK : Jumlah Berita Acara Pelaksanaan Rapat Koordinasi Penataan Akses dalam rangka Reforma Agraria}
  \blok{s2}{5208}{968}{198}{60}{60}{abu}{Pemerintah Provinsi berkoordinasi dengan Kanwil BPN Provinsi dalam pelaksanaan legalisasi aset dan redistribusi tanah}{IK : Jumlah Berita Acara dalam rangka Koordinasi Penataan Aset Reforma Agraria}

  % garis hubung
  \foreach \anak in {mis1,mis2,mis3,mis4} {\turun{akar-ik}{\anak}{161}}
  \turun{mis1-ik}{tuj1}{332}
  \turun{mis1-ik}{tuj2}{332}
  \draw[panah] (mis2-ik.south) -- (mis2-ik.south |- tuj3.north);
  \turun{mis3-ik}{tuj4}{332}
  \turun{mis3-ik}{tuj5}{332}
  \turun{mis4-ik}{tuj6}{328}
  \turun{mis4-ik}{tuj7}{328}

  \foreach \anak in {sa,sb,sd,se} {\turun{tuj1-ik}{\anak}{598}}
  \draw[panah] (tuj2-ik.south) -- (tuj2-ik.south |- sf.north);
  \turun{tuj3-ik}{sg}{521}
  \turun{tuj3-ik}{sh}{521}
  \draw[panah] (tuj4-ik.south) -- (tuj4-ik.south |- si.north);
  \foreach \anak in {sj,sk,sl,sm,sn,so,sp,sq} {\turun{tuj5-ik}{\anak}{579}}
  \draw[panah] (tuj6-ik.south) -- (tuj6-ik.south |- sr.north);
  \draw[panah] (tuj7-ik.south) -- (tuj7-ik.south |- ss.north);

  \draw[panah] (tuj1-ik.east) -- ++(32,0) |- (cc1-ik.west);
  \draw[duaarah] (cc1-tx.south east) -- (cc2-tx.south west);
  \draw[panah] (sa-ik.east) -- ++(31,0) -- ++(22,49) -- (cc3-ik.west);

  \foreach \anak in {a1,a2,a3,a4,a5,a6,a7,a8} {\samping{sa-ik}{\anak}{7}{788}}
  \foreach \anak in {b1,b2,b3} {\samping{sb-ik}{\anak}{567}{788}}
  \foreach \anak in {d1,d2,d3,d4} {\samping{sd-ik}{\anak}{817}{788}}
  \foreach \anak in {e1,e2} {\samping{se-ik}{\anak}{1108}{788}}
  \draw[panah] (sf-ik.south) -- (sf-ik.south |- f1.north);
  \foreach \anak in {g1,g2,g3,g4,g5} {\samping{sg-ik}{\anak}{1677}{796}}
  \foreach \anak in {h1,h2,h3,h4} {\samping{sh-ik}{\anak}{1968}{790}}
  \foreach \anak in {i1,i2,i3,i4} {\samping{si-ik}{\anak}{2279}{798}}
  \foreach \anak in {j1,j2,j3,j4,j5,j6,j7,j8,j9,j10} {\samping{sj-ik}{\anak}{2596}{778}}
  \foreach \anak in {k1,k2,k3,k4,k5,k6,k7,k8} {\samping{sk-ik}{\anak}{2876}{779}}
  \foreach \anak in {l1,l2} {\samping{sl-ik}{\anak}{3157}{777}}
  \foreach \anak in {m1,m2,m3} {\samping{sm-ik}{\anak}{3437}{776}}
  \foreach \anak in {n1,n2,n3,n4,n5,n6,n7,n8} {\samping{sn-ik}{\anak}{3727}{770}}
  \foreach \anak in {o1,o2} {\samping{so-ik}{\anak}{3997}{769}}
  \foreach \anak in {p1,p2,p3} {\samping{sp-ik}{\anak}{4278}{787}}
  \foreach \anak in {q1,q2,q3,q4} {\samping{sq-ik}{\anak}{4547}{770}}
  \draw[panah] (sr-ik.south) -- (sr-ik.south |- r1.north);
  \foreach \anak in {s1,s2} {\samping{ss-ik}{\anak}{5168}{797}}
\end{tikzpicture}
\end{document}
